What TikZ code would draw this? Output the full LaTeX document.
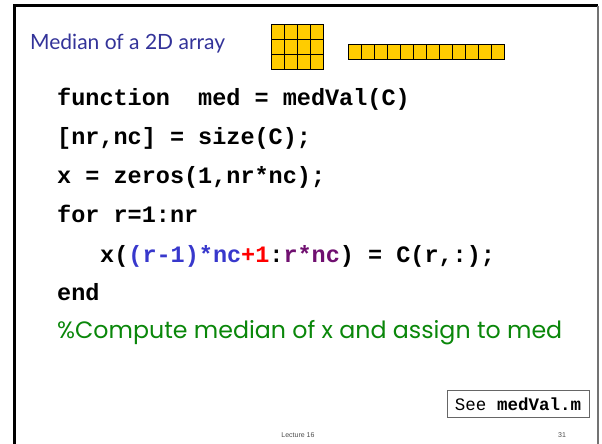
\documentclass[tikz,border=0pt]{standalone}
\usepackage{fontspec}
\usepackage{xcolor}
\usepackage{tikz}
\setmonofont{Liberation Mono}
\newfontfamily\titlefont{Lato}
\newfontfamily\notefont{Poppins}
\newfontfamily\footfont{Liberation Sans}
\definecolor{titleblue}{HTML}{333399}
\definecolor{codeblue}{HTML}{3838CC}
\definecolor{codepurple}{HTML}{701070}
\definecolor{notegreen}{HTML}{0A870A}
\definecolor{cellgold}{HTML}{FFCC00}

\begin{document}
\begin{tikzpicture}[
    x=1pt, y=-1pt,
    cell/.style={rectangle, draw=black, fill=cellgold, line width=1.1pt,
                 minimum width=13pt, minimum height=15pt, inner sep=0pt, anchor=north west},
    code/.style={anchor=base west, inner sep=0pt,
                 font=\ttfamily\bfseries\fontsize{23.5pt}{28pt}\selectfont},
    foot/.style={font=\footfont\fontsize{7pt}{8pt}\selectfont, text=black!70, inner sep=0pt}
]
  \useasboundingbox (0,0) rectangle (602,444);

  % Slide frame (open at the bottom)
  \draw[line width=3pt] (14,444) -- (14,6) -- (598,6);
  \draw[line width=2pt, black!55] (598,6) -- (598,444);

  % Title
  \node[anchor=base west, inner sep=0pt, text=titleblue,
        font=\titlefont\fontsize{21pt}{26pt}\selectfont] (title) at (30,50) {Median of a 2D array};

  % 3-by-4 array C and its unrolled 1-by-12 version
  \foreach \r in {0,1,2}
    \foreach \c in {0,...,3}
      \node[cell] (mat-\r-\c) at (271+13*\c, 24+15*\r) {};
  \foreach \c in {0,...,11}
    \node[cell] (vec-\c) at (348+13*\c, 44) {};

  % Code lines
  \node[code] (l1) at (57,105) {function\ \ med = medVal(C)};
  \node[code] (l2) at (57,144) {[nr,nc] = size(C);};
  \node[code] (l3) at (57,183) {x = zeros(1,nr*nc);};
  \node[code] (l4) at (57,222) {for r=1:nr};
  \node[code] (l5) at (100,262) {x(\textcolor{codeblue}{(r-1)*nc}\textcolor{red}{+1}:\textcolor{codepurple}{r*nc}) = C(r,:);};
  \node[code] (l6) at (57,300) {end};
  \node[anchor=base west, inner sep=0pt, text=notegreen,
        font=\notefont\fontsize{23.7pt}{28pt}\selectfont] (note) at (57,338) {\%Compute median of x and assign to med};

  % Pointer to the file
  \node[draw=black!60, line width=0.8pt, minimum width=142pt, minimum height=27pt, inner sep=0pt,
        font=\ttfamily\fontsize{17.5pt}{20pt}\selectfont] (see) at (518,404) {See \textbf{medVal.m}};

  % Footer
  \node[foot] (lec) at (298,435) {Lecture 16};
  \node[foot] (num) at (562,435) {31};
\end{tikzpicture}
\end{document}
